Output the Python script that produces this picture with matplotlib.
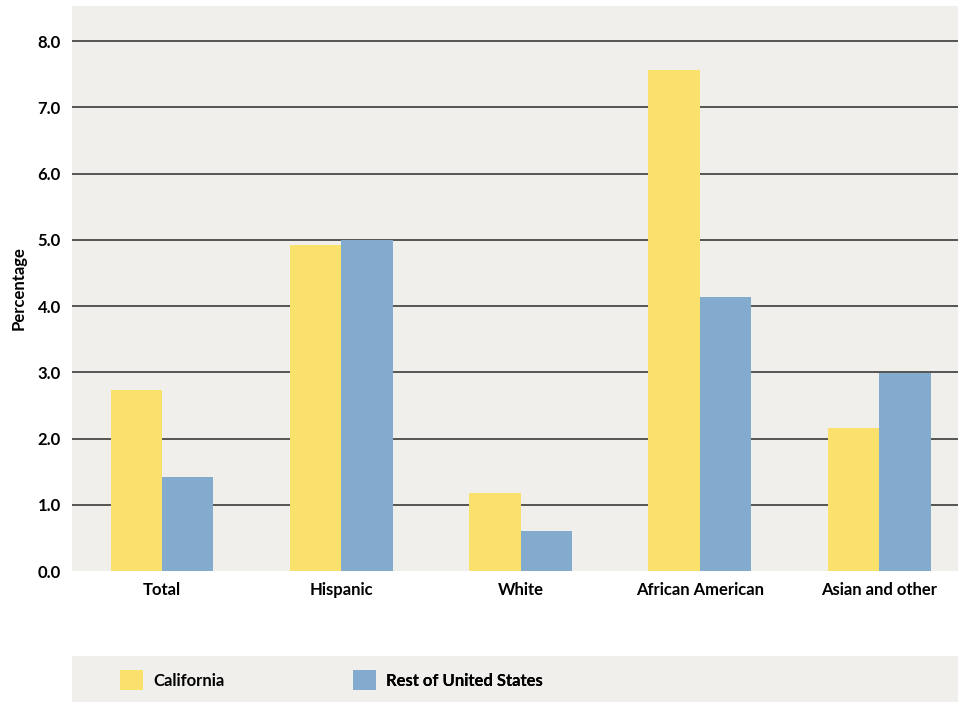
import numpy as np
import matplotlib.pyplot as plt
from matplotlib.patches import Patch

# Data
groups = ['Total', 'Hispanic', 'White', 'African American', 'Asian and other']
series = ['California', 'Rest of United States']
california = [2.73, 4.92, 1.18, 7.56, 2.16]
rest_of_us = [1.42, 5.00, 0.60, 4.14, 2.99]
yticks = [0, 1, 2, 3, 4, 5, 6, 7, 8]

ca_color = '#fae16b'
us_color = '#82abcd'
bg_color = '#f0efeb'

plt.rcParams['font.family'] = ['Lato', 'DejaVu Sans']

fig = plt.figure(figsize=(9.59, 7.02), dpi=100)
ax = fig.add_axes([72/959, 1 - 571/702, 886/959, 565/702])
ax.set_facecolor(bg_color)

x = np.arange(len(groups))
w = 0.287
ax.bar(x - w/2, california, width=w, color=ca_color, zorder=3)
ax.bar(x + w/2, rest_of_us, width=w, color=us_color, zorder=3)

ax.set_xlim(-0.502, 4.44)
ax.set_ylim(0, 8.53)
ax.set_yticks(yticks)
ax.set_yticklabels([f'{v:.1f}' for v in yticks], fontsize=12, fontweight='bold')
ax.set_xticks(x)
ax.set_xticklabels(groups, fontsize=12, fontweight='bold')
ax.tick_params(axis='both', length=0, pad=8)

for v in yticks[1:]:
    ax.axhline(v, color='#2a2a2a', lw=1.1, zorder=1)

for s in ax.spines.values():
    s.set_visible(False)

ax.set_ylabel('Percentage', fontsize=12, fontweight='bold', labelpad=8)

# Legend band
lax = fig.add_axes([72/959, 0, 886/959, 46/702])
lax.set_facecolor(bg_color)
lax.set_xticks([])
lax.set_yticks([])
for s in lax.spines.values():
    s.set_visible(False)

prop = {'size': 12, 'weight': 'bold', 'family': ['Lato', 'DejaVu Sans']}
for label, color, xpos in [(series[0], ca_color, 48/886), (series[1], us_color, 281/886)]:
    leg = lax.legend(handles=[Patch(facecolor=color, label=label)],
                     loc='center left', bbox_to_anchor=(xpos, 0.47),
                     frameon=False, handlelength=1.4, handleheight=1.45,
                     handletextpad=0.6, borderpad=0, borderaxespad=0, prop=prop)
    lax.add_artist(leg)

fig.savefig('out.png', dpi=100, facecolor='white')
